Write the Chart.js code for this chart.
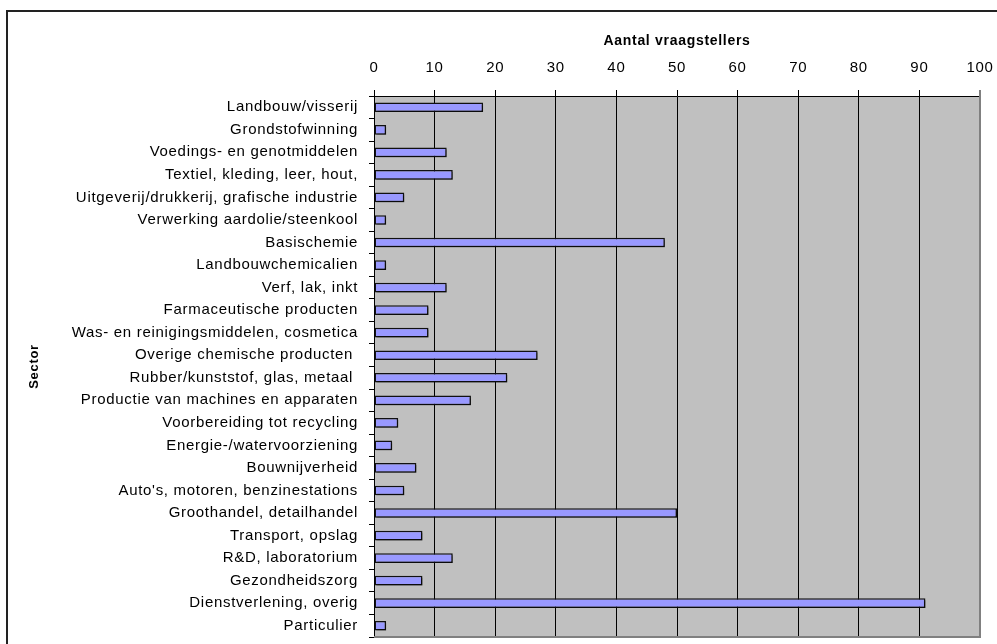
<!DOCTYPE html>
<html>
<head>
<meta charset="utf-8">
<script src="https://cdn.jsdelivr.net/npm/chart.js@4"></script>
<style>
html,body{margin:0;padding:0;background:#fff;}
#wrap{width:997px;height:644px;position:relative;}
</style>
</head>
<body>
<div id="wrap"><canvas id="c" width="997" height="644"></canvas></div>
<script>
const categories = [
  "Landbouw/visserij",
  "Grondstofwinning",
  "Voedings- en genotmiddelen",
  "Textiel, kleding, leer, hout,",
  "Uitgeverij/drukkerij, grafische industrie",
  "Verwerking aardolie/steenkool",
  "Basischemie",
  "Landbouwchemicalien",
  "Verf, lak, inkt",
  "Farmaceutische producten",
  "Was- en reinigingsmiddelen, cosmetica",
  "Overige chemische producten ",
  "Rubber/kunststof, glas, metaal ",
  "Productie van machines en apparaten",
  "Voorbereiding tot recycling",
  "Energie-/watervoorziening",
  "Bouwnijverheid",
  "Auto's, motoren, benzinestations",
  "Groothandel, detailhandel",
  "Transport, opslag",
  "R&D, laboratorium",
  "Gezondheidszorg",
  "Dienstverlening, overig",
  "Particulier"
];
const vraagstellers = [18, 2, 12, 13, 5, 2, 48, 2, 12, 9, 9, 27, 22, 16, 4, 3, 7, 5, 50, 8, 13, 8, 91, 2];
const xTickMin = 0, xTickMax = 100, xTickStep = 10;
const xTitle = "Aantal vraagstellers";
const yTitle = "Sector";

const FONT = "'Liberation Sans', Arial, sans-serif";
const SPACING = '0.7px';

const decor = {
  id: 'decor',
  beforeUpdate(chart){ chart.ctx.letterSpacing = SPACING; },
  beforeDraw(chart){
    const ctx = chart.ctx, a = chart.chartArea;
    ctx.letterSpacing = SPACING;
    ctx.save();
    ctx.fillStyle = '#C0C0C0';
    ctx.fillRect(a.left, a.top, a.right - a.left, a.bottom - a.top);
    ctx.restore();
  },
  beforeDatasetsDraw(chart){
    const ctx = chart.ctx;
    ctx.save();
    ctx.shadowColor = 'rgba(0,0,0,0.35)';
    ctx.shadowOffsetX = 2;
    ctx.shadowOffsetY = 2;
    ctx.shadowBlur = 0;
  },
  afterDatasetsDraw(chart){
    chart.ctx.restore();
  },
  afterDraw(chart){
    const ctx = chart.ctx, a = chart.chartArea;
    ctx.save();
    ctx.strokeStyle = '#808080';
    ctx.lineWidth = 2;
    ctx.beginPath();
    ctx.moveTo(a.right, a.top - 6);
    ctx.lineTo(a.right, a.bottom);
    ctx.lineTo(a.left, a.bottom);
    ctx.stroke();
    ctx.strokeStyle = '#222';
    ctx.lineWidth = 2;
    ctx.beginPath();
    ctx.moveTo(7, 644);
    ctx.lineTo(7, 11);
    ctx.lineTo(997, 11);
    ctx.stroke();
    ctx.restore();
  }
};

new Chart(document.getElementById('c'), {
  type: 'bar',
  data: {
    labels: categories,
    datasets: [{
      data: vraagstellers,
      backgroundColor: '#9999FF',
      borderColor: '#111',
      borderWidth: 1.5,
      borderSkipped: false,
      categoryPercentage: 1,
      barPercentage: 0.43
    }]
  },
  options: {
    indexAxis: 'y',
    responsive: false,
    animation: false,
    devicePixelRatio: 1,
    layout: { padding: { left: 0, top: 0, right: 17, bottom: 7 } },
    plugins: { legend: { display: false }, tooltip: { enabled: false } },
    scales: {
      x: {
        position: 'top',
        min: xTickMin, max: xTickMax,
        ticks: { stepSize: xTickStep, color: '#000', padding: 13, font: { family: FONT, size: 15 } },
        grid: { color: '#000', lineWidth: 1, tickLength: 6, drawOnChartArea: true },
        border: { color: '#000', width: 1 },
        title: { display: true, text: xTitle, color: '#000', font: { family: FONT, size: 14, weight: 'bold' }, padding: { top: 33, bottom: 0 } },
        afterFit(scale){ scale.height = 96; scale.paddingLeft = 0; scale.paddingRight = 0; }
      },
      y: {
        ticks: { color: '#000', padding: 11, font: { family: FONT, size: 15 }, autoSkip: false },
        grid: { color: '#000', lineWidth: 1, tickLength: 5, drawOnChartArea: false, offset: true },
        border: { color: '#000', width: 1 },
        title: { display: true, text: yTitle, color: '#000', font: { family: FONT, size: 13, weight: 'bold' }, padding: { top: 27, bottom: 0 } },
        afterFit(scale){ scale.width = 374; scale.paddingTop = 0; scale.paddingBottom = 0; }
      }
    }
  },
  plugins: [decor]
});
</script>
</body>
</html>
